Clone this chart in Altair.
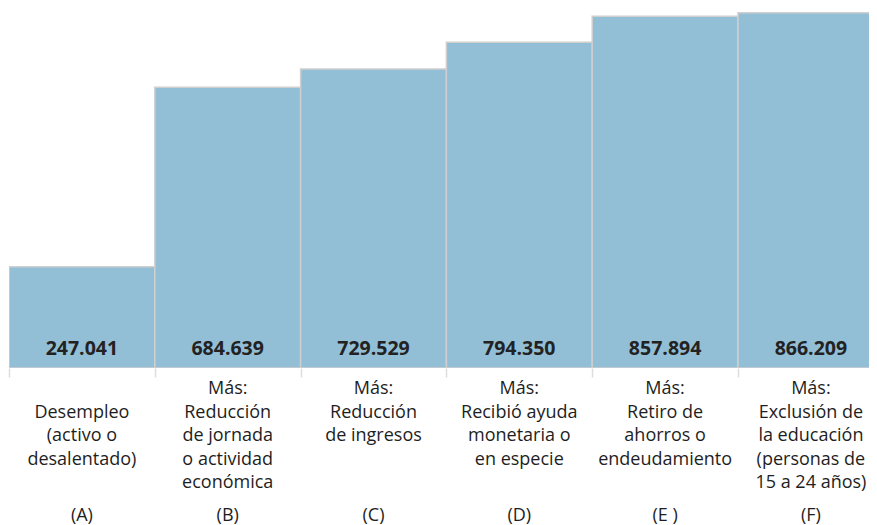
import altair as alt
import pandas as pd

letras = ["(A)", "(B)", "(C)", "(D)", "(E )", "(F)"]
etiquetas = [
    "\nDesempleo\n(activo o\ndesalentado)",
    "Más:\nReducción\nde jornada\no actividad\neconómica",
    "Más:\nReducción\nde ingresos",
    "Más:\nRecibió ayuda\nmonetaria o\nen especie",
    "Más:\nRetiro de\nahorros o\nendeudamiento",
    "Más:\nExclusión de\nla educación\n(personas de\n15 a 24 años)",
]
valores = [247041, 684639, 729529, 794350, 857894, 866209]

df = pd.DataFrame({"letra": letras, "etiqueta": etiquetas, "valor": valores})
df["i"] = range(len(df))

FONT = "Open Sans"
W = 860
BAR = 145.8
xscale = alt.Scale(domain=[0, W / BAR], nice=False, zero=True)
y = alt.Y("valor:Q", scale=alt.Scale(domain=[0, 878000], nice=False), axis=None)

base = alt.Chart(df).transform_calculate(
    i1="datum.i + 1", ic="datum.i + 0.5",
    lab="replace(format(datum.valor, ','), ',', '.')")

bars = base.mark_bar(color="#93bfd6", stroke="#cfcfcf", strokeWidth=1.5, clip=True).encode(
    x=alt.X("i:Q", scale=xscale,
            axis=alt.Axis(title=None, labels=False, domain=False, grid=False,
                          values=[0, 1, 2, 3, 4, 5], tickColor="#dddddd",
                          tickSize=9, tickWidth=1.5)),
    x2="i1:Q", y=y, y2=alt.datum(0))

xc = alt.X("ic:Q", scale=xscale)

valtxt = base.mark_text(font=FONT, fontWeight="bold", fontSize=19.5, color="#222222",
                        baseline="middle").encode(x=xc, y=alt.value(341), text="lab:N")

cattxt = base.mark_text(font=FONT, fontSize=18, color="#1e1e1e", baseline="top",
                        lineBreak="\n", lineHeight=23.5, align="center").encode(
    x=xc, y=alt.value(372), text="etiqueta:N")

lettxt = base.mark_text(font=FONT, fontSize=18, color="#1e1e1e", baseline="middle").encode(
    x=xc, y=alt.value(508), text="letra:N")

chart = alt.layer(bars, valtxt, cattxt, lettxt).properties(
    width=W, height=360,
    autosize=alt.AutoSizeParams(type="none"),
    padding={"left": 1, "top": 0, "right": 0, "bottom": 162},
).configure_view(stroke=None)

chart.save("out.html", embed_options={"renderer": "svg", "actions": False})
